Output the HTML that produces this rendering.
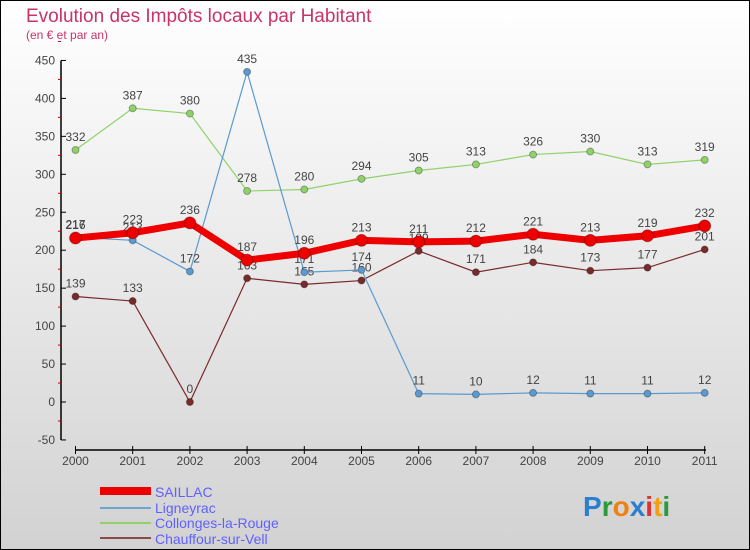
<!DOCTYPE html>
<html><head><meta charset="utf-8"><style>
body{margin:0}
#c{width:750px;height:550px;position:relative;overflow:hidden;font-family:"Liberation Sans",sans-serif}
</style></head><body>
<div id="c">
<svg id="s" width="750" height="550" xmlns="http://www.w3.org/2000/svg">
<defs><linearGradient id="bg" x1="0" y1="0" x2="0" y2="1"><stop offset="0" stop-color="#ffffff"/><stop offset="1" stop-color="#d2d2d2"/></linearGradient></defs>
<rect x="0.5" y="0.5" width="749" height="549" fill="url(#bg)" stroke="#000"/>
<text x="26" y="22" font-size="19" fill="#c8336a">Evolution des Impôts locaux par Habitant</text>
<text x="26" y="39" font-size="12" fill="#c8336a">(en € et par an)</text>
<g id="axes"></g><g id="series"></g>
<g>
<rect x="100" y="487" width="51" height="8" fill="#e00"/>
<text x="155" y="497" font-size="14" fill="#6060ff">SAILLAC</text>
<line x1="100" y1="508" x2="151" y2="508" stroke="#6aa6d0" stroke-width="2"/>
<text x="155" y="513" font-size="14" fill="#6060ff">Ligneyrac</text>
<line x1="100" y1="523" x2="151" y2="523" stroke="#8fd26a" stroke-width="2"/>
<text x="155" y="528" font-size="14" fill="#6060ff">Collonges-la-Rouge</text>
<line x1="100" y1="538" x2="151" y2="538" stroke="#8a4a4a" stroke-width="2"/>
<text x="155" y="544" font-size="14" fill="#6060ff">Chauffour-sur-Vell</text>
</g>
<text x="583" y="516" font-size="28" font-weight="bold"><tspan fill="#2a7fd0">P</tspan><tspan fill="#2a9a3a">r</tspan><tspan fill="#f08010">o</tspan><tspan fill="#2a7fd0">x</tspan><tspan fill="#e03030">i</tspan><tspan fill="#f0a010">t</tspan><tspan fill="#2a9a3a">i</tspan></text>
</svg>
</div>
<script>
const years=["2000","2001","2002","2003","2004","2005","2006","2007","2008","2009","2010","2011"];
const yTicks=[-50,0,50,100,150,200,250,300,350,400,450];
const saillac=[216,223,236,187,196,213,211,212,221,213,219,232];
const ligneyrac=[217,213,172,435,171,174,11,10,12,11,11,12];
const collonges=[332,387,380,278,280,294,305,313,326,330,313,319];
const chauffour=[139,133,0,163,155,160,199,171,184,173,177,201];
const NS="http://www.w3.org/2000/svg";
const X=i=>75.5+i*57.2;
const Y=v=>402-v*0.759;
function mk(t,a,p){const e=document.createElementNS(NS,t);for(const k in a)e.setAttribute(k,a[k]);p.appendChild(e);return e;}
const ax=document.getElementById('axes');
mk('line',{x1:61,y1:Y(450),x2:61,y2:Y(-50),stroke:'#000','stroke-width':1.5},ax);
mk('line',{x1:75,y1:450,x2:706,y2:450,stroke:'#000','stroke-width':1.5},ax);
yTicks.forEach(v=>{mk('line',{x1:61,y1:Y(v),x2:66,y2:Y(v),stroke:'#000'},ax);
 mk('line',{x1:58,y1:Y(v+25),x2:61,y2:Y(v+25),stroke:'#c00'},ax);
 const t=mk('text',{x:55,y:Y(v)+4,'font-size':12,fill:'#444','text-anchor':'end'},ax);t.textContent=v;
 });
years.forEach((y,i)=>{mk('line',{x1:X(i),y1:446,x2:X(i),y2:454,stroke:'#000'},ax);
 const t=mk('text',{x:X(i),y:465,'font-size':12,fill:'#444','text-anchor':'middle'},ax);t.textContent=y;
 });
const sg=document.getElementById('series');
function series(vals,color,w,r,name){
 const g=mk('g',{},sg);
 
 
 mk('polyline',{points:vals.map((v,i)=>X(i)+','+Y(v)).join(' '),fill:'none',stroke:color,'stroke-width':w},g);
 vals.forEach((v,i)=>{const c=mk('circle',{cx:X(i),cy:Y(v),r:r,fill:color,stroke:'rgba(0,0,0,0.3)'},g);
  
  const t=mk('text',{x:X(i),y:Y(v)-9,'font-size':12,fill:'#444','text-anchor':'middle'},g);t.textContent=v;
  });
}
series(chauffour,'#7a2a2a',1.2,3.5,'series-chauffour');
series(collonges,'#8fd26a',1.2,3.5,'series-collonges');
series(ligneyrac,'#5a9ad0',1.2,3.5,'series-ligneyrac');
series(saillac,'#ee0000',7,6,'series-saillac');
</script>
</body></html>
